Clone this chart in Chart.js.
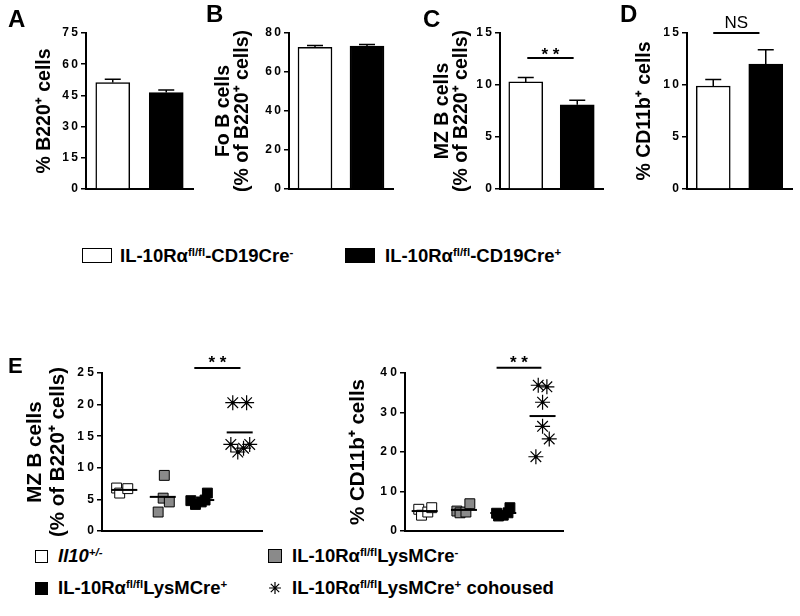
<!DOCTYPE html>
<html>
<head>
<meta charset="utf-8">
<script src="https://cdn.jsdelivr.net/npm/chart.js@4/dist/chart.umd.min.js"></script>
<style>
  body { margin: 0; background: #fff; }
  #fig { position: relative; width: 800px; height: 616px; font-family: "Liberation Sans", Arial, sans-serif; color: #000; }
  canvas { position: absolute; }
  .letter { position: absolute; font-weight: bold; line-height: 1; }
  .sw { position: absolute; box-sizing: border-box; border: 1.5px solid #000; }
  .txt { position: absolute; font-weight: bold; font-size: 18.5px; line-height: 20px; white-space: nowrap; }
  sup { font-size: 0.62em; vertical-align: 0.55em; line-height: 0; }
</style>
</head>
<body>
<div id="fig">
  <canvas id="cA" width="200" height="205" style="left:0;top:0"></canvas>
  <canvas id="cB" width="200" height="205" style="left:195px;top:0"></canvas>
  <canvas id="cC" width="195" height="205" style="left:410px;top:0"></canvas>
  <canvas id="cD" width="190" height="205" style="left:610px;top:0"></canvas>
  <canvas id="cE1" width="280" height="245" style="left:0;top:300px"></canvas>
  <canvas id="cE2" width="250" height="245" style="left:330px;top:300px"></canvas>

  <div class="letter" style="left:8px;top:7px;font-size:24px">A</div>
  <div class="letter" style="left:206px;top:2px;font-size:24px">B</div>
  <div class="letter" style="left:423px;top:7px;font-size:24px">C</div>
  <div class="letter" style="left:620px;top:2px;font-size:24px">D</div>
  <div class="letter" style="left:8px;top:355px;font-size:22px">E</div>

  <div class="sw" style="left:82px;top:248px;width:30px;height:15px;background:#fff"></div>
  <div class="txt" style="left:120px;top:246px">IL-10Rα<sup>fl/fl</sup>-CD19Cre<sup>-</sup></div>
  <div class="sw" style="left:345px;top:248px;width:30px;height:15px;background:#000"></div>
  <div class="txt" style="left:385px;top:246px">IL-10Rα<sup>fl/fl</sup>-CD19Cre<sup>+</sup></div>

  <div class="sw" style="left:35px;top:550px;width:13px;height:13px;background:#fff"></div>
  <div class="txt" style="left:58px;top:546px"><i>Il10<sup>+/-</sup></i></div>
  <div class="sw" style="left:268px;top:549px;width:14px;height:14px;background:#8a8a8a"></div>
  <div class="txt" style="left:292px;top:546px">IL-10Rα<sup>fl/fl</sup>LysMCre<sup>-</sup></div>
  <div class="sw" style="left:35px;top:582px;width:13px;height:13px;background:#000"></div>
  <div class="txt" style="left:58px;top:578px">IL-10Rα<sup>fl/fl</sup>LysMCre<sup>+</sup></div>
  <svg style="position:absolute;left:268px;top:581px" width="14" height="14" viewBox="-7 -7 14 14">
    <path d="M0 -6V6M-6 0H6M-4.2 -4.2L4.2 4.2M-4.2 4.2L4.2 -4.2" stroke="#000" stroke-width="1.2"/>
  </svg>
  <div class="txt" style="left:292px;top:578px">IL-10Rα<sup>fl/fl</sup>LysMCre<sup>+</sup> cohoused</div>
</div>

<script>
// top row: bar means and SEM
const cd19Groups = ['IL-10Rα fl/fl-CD19Cre-', 'IL-10Rα fl/fl-CD19Cre+'];
const b220Pct = [51.2, 46.4];
const b220Sem = [1.6, 1.2];
const foBPct = [72.6, 73.3];
const foBSem = [1.0, 0.8];
const mzBPct = [10.3, 8.1];
const mzBSem = [0.42, 0.43];
const cd11bPct = [9.9, 12.0];
const cd11bSem = [0.64, 1.4];

// panel E: individual mice
const lysGroups = ['Il10+/-', 'IL-10Rα fl/fl LysMCre-', 'IL-10Rα fl/fl LysMCre+', 'IL-10Rα fl/fl LysMCre+ cohoused'];
const mzHet = [6.8, 6.0, 6.7];
const mzLysNeg = [8.8, 5.2, 4.6, 3.0];
const mzLysPos = [4.8, 4.2, 4.6, 4.9, 6.0];
const mzCohoused = [20.3, 20.3, 13.7, 12.5, 13.1, 13.7];
const cdHet = [5.5, 4.0, 4.8, 5.9];
const cdLysNeg = [5.05, 4.6, 4.8, 6.9];
const cdLysPos = [4.5, 3.8, 4.0, 4.6, 5.9];
const cdCohoused = [36.9, 36.5, 32.6, 26.5, 23.3, 18.8];

// horizontal spread of the dots around each group
const mzJitter = [[-0.2, -0.12, 0.09], [0.04, 0.01, 0.17, -0.12], [-0.27, -0.15, 0.0, 0.1, 0.16], [-0.18, 0.18, -0.23, -0.05, 0.1, 0.26]];
const cdJitter = [[-0.15, -0.08, 0.08, 0.18], [-0.18, -0.1, 0.05, 0.15], [-0.17, -0.12, 0, 0.12, 0.17], [-0.11, 0.11, 0, 0, 0.17, -0.17]];

Chart.defaults.font.family = "'Liberation Sans', Arial, sans-serif";
Chart.defaults.color = '#000';
Chart.defaults.animation = false;

const errorBars = {
  id: 'errorBars',
  afterDatasetsDraw(chart) {
    const ctx = chart.ctx, y = chart.scales.y;
    chart.data.datasets.forEach((ds, di) => {
      if (!ds.errors) return;
      chart.getDatasetMeta(di).data.forEach((bar, i) => {
        const top = y.getPixelForValue(ds.data[i] + ds.errors[i]);
        ctx.save();
        ctx.strokeStyle = '#000';
        ctx.lineWidth = 1.5;
        ctx.beginPath();
        ctx.moveTo(bar.x, bar.y);
        ctx.lineTo(bar.x, top);
        ctx.moveTo(bar.x - 8, top);
        ctx.lineTo(bar.x + 8, top);
        ctx.stroke();
        ctx.restore();
      });
    });
  }
};

const meanLines = {
  id: 'meanLines',
  afterDatasetsDraw(chart) {
    const ctx = chart.ctx;
    chart.data.datasets.forEach(ds => {
      if (!ds.group) return;
      const m = ds.data.reduce((a, p) => a + p.y, 0) / ds.data.length;
      const cx = chart.scales.x.getPixelForValue(ds.group);
      const cy = chart.scales.y.getPixelForValue(m);
      ctx.save();
      ctx.strokeStyle = '#000';
      ctx.lineWidth = 2;
      ctx.beginPath();
      ctx.moveTo(cx - 13, cy);
      ctx.lineTo(cx + 13, cy);
      ctx.stroke();
      ctx.restore();
    });
  }
};

const sigBar = {
  id: 'sigBar',
  afterDraw(chart, args, opts) {
    if (!opts || !opts.text) return;
    const ctx = chart.ctx;
    const x1 = chart.scales.x.getPixelForValue(opts.from);
    const x2 = chart.scales.x.getPixelForValue(opts.to);
    const yy = chart.scales.y.getPixelForValue(opts.value);
    ctx.save();
    ctx.strokeStyle = '#000';
    ctx.lineWidth = 2;
    ctx.beginPath();
    ctx.moveTo(x1, yy);
    ctx.lineTo(x2, yy);
    ctx.stroke();
    ctx.fillStyle = '#000';
    ctx.textAlign = 'center';
    ctx.textBaseline = 'alphabetic';
    ctx.font = opts.font;
    ctx.fillText(opts.text, (x1 + x2) / 2, yy + opts.dy);
    ctx.restore();
  }
};

Chart.register(errorBars, meanLines, sigBar);

function yTitle(lines, center, size, gap) {
  return {
    display: true, text: lines, color: '#000',
    font: { size: size, weight: 'bold', lineHeight: gap + 'px' },
    padding: { top: center - gap / 2, bottom: 0 }
  };
}

function yAxis(max, step, width, title, sep) {
  return {
    min: 0, max: max,
    ticks: { stepSize: step, padding: 3, color: '#000',
      font: { size: 12, weight: 'bold' },
      callback: v => String(v).split('').join(sep) },
    grid: { drawOnChartArea: false, drawTicks: true, tickLength: 5, color: '#000', lineWidth: 1.5 },
    border: { color: '#000', width: 2 },
    title: title,
    afterFit: s => { s.width = width; }
  };
}

function barPanel(id, values, errors, max, step, axisW, padRight, title, sig) {
  new Chart(document.getElementById(id), {
    type: 'bar',
    data: {
      labels: cd19Groups,
      datasets: [{ data: values, errors: errors, backgroundColor: ['#fff', '#000'],
        borderColor: '#000', borderWidth: 1.5, barThickness: 34 }]
    },
    options: {
      responsive: false,
      layout: { padding: { left: 0, top: 33, right: padRight, bottom: 16 } },
      plugins: { legend: { display: false }, tooltip: { enabled: false }, sigBar: sig || {} },
      scales: {
        x: { grid: { display: false }, ticks: { display: false },
          border: { color: '#000', width: 2 }, afterFit: s => { s.height = 0; } },
        y: yAxis(max, step, axisW, title, '\u2009')
      }
    }
  });
}

barPanel('cA', b220Pct, b220Sem, 75, 15, 86, 7, yTitle('% B220\u207A cells', 45, 19.5, 19));
barPanel('cB', foBPct, foBSem, 80, 20, 94, 2, yTitle(['Fo B cells', '(% of B220\u207A cells)'], 29, 19.5, 19));
barPanel('cC', mzBPct, mzBSem, 15, 5, 90, 2, yTitle(['MZ B cells', '(% of B220\u207A cells)'], 33, 19.5, 19),
  { from: 0.03, to: 0.93, value: 12.6, text: '* *', font: 'bold 17px "Liberation Sans", Arial', dy: 2 });
barPanel('cD', cd11bPct, cd11bSem, 15, 5, 77, 8, yTitle('% CD11b\u207A cells', 35, 19.5, 19),
  { from: 0, to: 0.88, value: 15, text: 'NS', font: '17px "Liberation Sans", Arial', dy: -5 });

function dotSets(groups, jitter) {
  const fills = ['#fff', '#8a8a8a', '#000'];
  const sets = [];
  groups.forEach((vals, g) => {
    const pts = vals.map((v, i) => ({ x: g + 1 + jitter[g][i], y: v }));
    if (g < 3) {
      sets.push({ data: pts, group: g + 1, pointStyle: 'rect', pointRadius: 7,
        backgroundColor: fills[g], borderColor: '#000', borderWidth: 1 });
    } else {
      sets.push({ data: pts, group: g + 1, pointStyle: 'star', pointRadius: 7.5,
        borderColor: '#000', borderWidth: 1.2 });
      sets.push({ data: pts, pointStyle: 'circle', pointRadius: 1.8,
        backgroundColor: '#000', borderWidth: 0 });
    }
  });
  return sets;
}

function dotPanel(id, groups, jitter, max, step, axisW, xMin, xMax, padRight, title, sig) {
  new Chart(document.getElementById(id), {
    type: 'scatter',
    data: { datasets: dotSets(groups, jitter) },
    options: {
      responsive: false,
      layout: { padding: { left: 0, top: 73, right: padRight, bottom: 14 } },
      plugins: { legend: { display: false }, tooltip: { enabled: false }, sigBar: sig },
      scales: {
        x: { type: 'linear', min: xMin, max: xMax, grid: { display: false }, ticks: { display: false },
          border: { color: '#000', width: 2 }, afterFit: s => { s.height = 0; } },
        y: yAxis(max, step, axisW, title, ' ')
      }
    }
  });
}

dotPanel('cE1', [mzHet, mzLysNeg, mzLysPos, mzCohoused], mzJitter, 25, 5, 102, 0.42, 4.58, 18,
  yTitle(['MZ B cells', '(% of B220\u207A cells)'], 35, 20.5, 23),
  { from: 2.82, to: 4.02, value: 25.8, text: '* *', font: 'bold 17px "Liberation Sans", Arial', dy: 0 });
dotPanel('cE2', [cdHet, cdLysNeg, cdLysPos, cdCohoused], cdJitter, 40, 10, 75, 0.5, 4.52, 17,
  yTitle('% CD11b\u207A cells', 28, 20.5, 20),
  { from: 2.83, to: 3.97, value: 41.3, text: '* *', font: 'bold 17px "Liberation Sans", Arial', dy: 0 });
</script>
</body>
</html>
